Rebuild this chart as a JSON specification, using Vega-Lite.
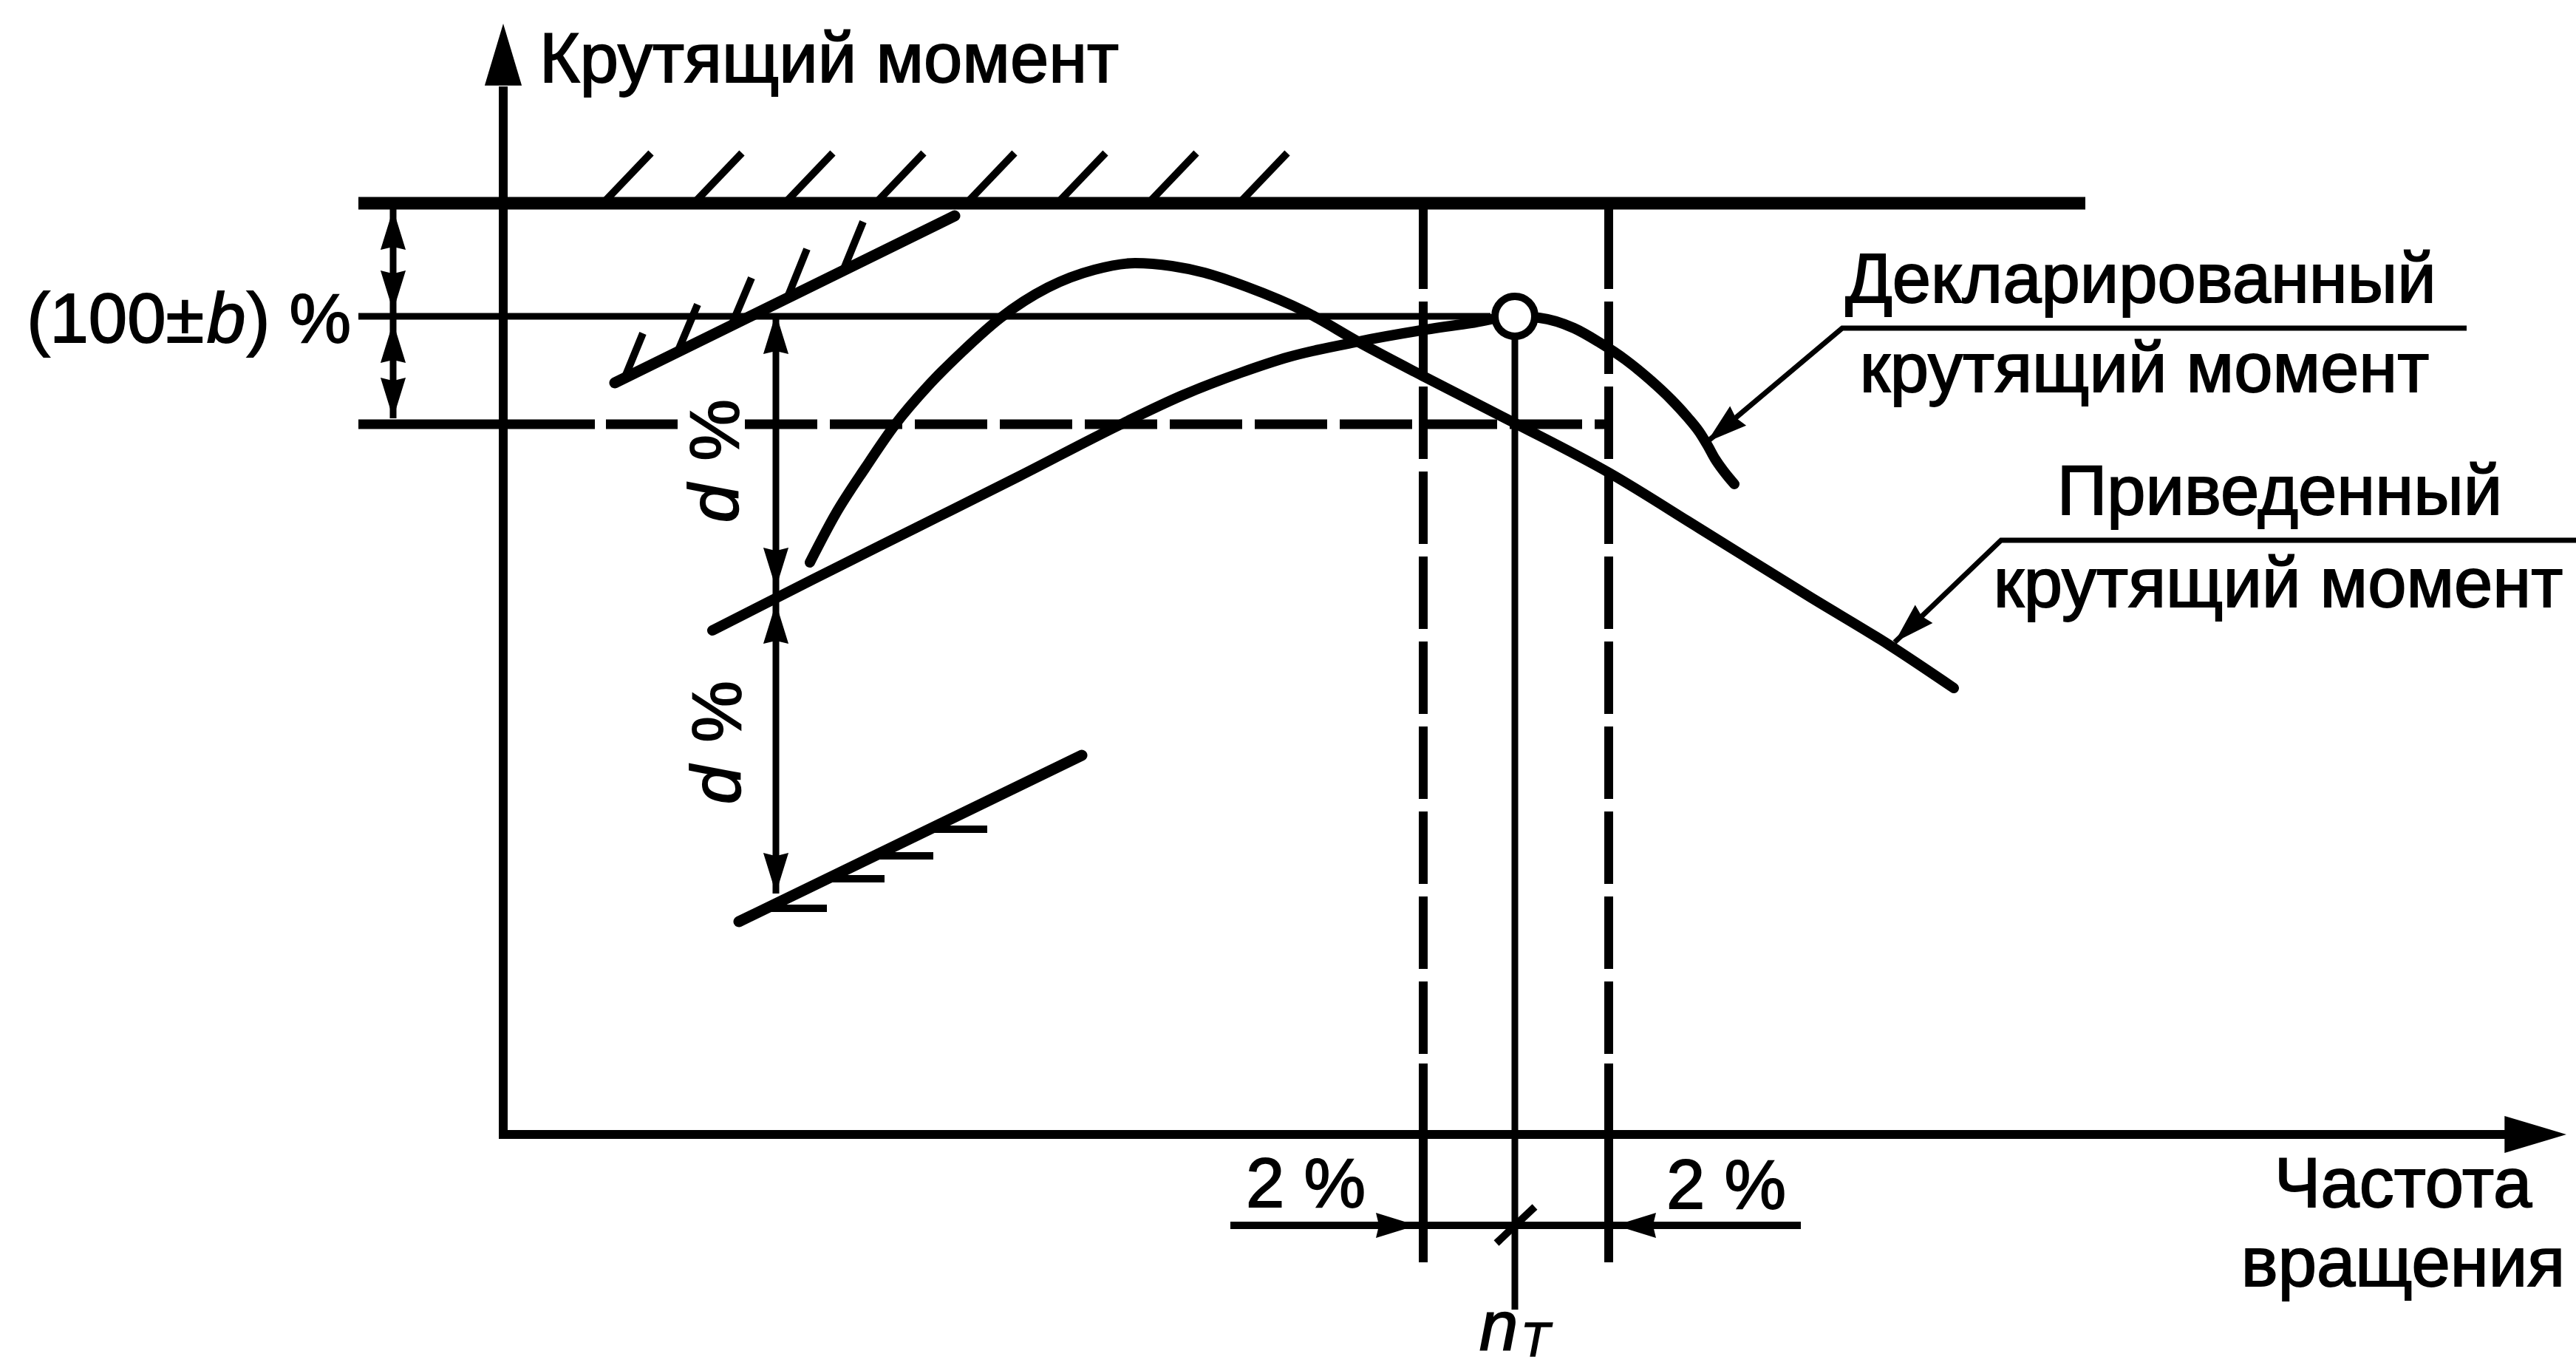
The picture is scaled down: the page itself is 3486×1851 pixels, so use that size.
{
  "$schema": "https://vega.github.io/schema/vega-lite/v6.json",
  "width": 3486,
  "height": 1851,
  "autosize": {"type": "none"},
  "padding": 0,
  "background": "white",
  "config": {"view": {"stroke": null}},
  "datasets": {
    "axisLines": [
      {"x": 0, "y": -6, "x2": 0, "y2": 1418},
      {"x": -6, "y": 0, "x2": 2713, "y2": 0}
    ],
    "limitLine": [
      {"x": -196, "y": 1260, "x2": 2141, "y2": 1260}
    ],
    "topHatch": [
      {"x": 135, "y": 1260, "x2": 200, "y2": 1328},
      {"x": 258, "y": 1260, "x2": 323, "y2": 1328},
      {"x": 381, "y": 1260, "x2": 446, "y2": 1328},
      {"x": 504, "y": 1260, "x2": 569, "y2": 1328},
      {"x": 627, "y": 1260, "x2": 692, "y2": 1328},
      {"x": 750, "y": 1260, "x2": 815, "y2": 1328},
      {"x": 873, "y": 1260, "x2": 938, "y2": 1328},
      {"x": 996, "y": 1260, "x2": 1061, "y2": 1328}
    ],
    "thinLines": [
      {"x": -196, "y": 1107, "x2": 1336, "y2": 1107},
      {"x": 1369, "y": 1076, "x2": 1369, "y2": -237},
      {"x": -149, "y": 1252, "x2": -149, "y2": 969},
      {"x": 369, "y": 1111, "x2": 369, "y2": 326}
    ],
    "dashSolid": [
      {"x": -196, "y": 961, "x2": 124, "y2": 961},
      {"x": 139, "y": 961, "x2": 236, "y2": 961}
    ],
    "dashH": [
      {"x": 327, "y": 961, "x2": 1491, "y2": 961}
    ],
    "dashV": [
      {"x": 1245, "y": 1242, "x2": 1245, "y2": 96},
      {"x": 1496, "y": 1242, "x2": 1496, "y2": 96}
    ],
    "vSolid": [
      {"x": 1245, "y": 1260, "x2": 1245, "y2": 1235},
      {"x": 1245, "y": 96, "x2": 1245, "y2": -173},
      {"x": 1496, "y": 1260, "x2": 1496, "y2": 1235},
      {"x": 1496, "y": 96, "x2": 1496, "y2": -173}
    ],
    "slopes": [
      {"x": 151, "y": 1017, "x2": 611, "y2": 1243},
      {"x": 319, "y": 288, "x2": 783, "y2": 513}
    ],
    "slopeHatch": [
      {"x": 164, "y": 1023, "x2": 189, "y2": 1084},
      {"x": 236, "y": 1059, "x2": 263, "y2": 1123},
      {"x": 309, "y": 1095, "x2": 336, "y2": 1159},
      {"x": 384, "y": 1131, "x2": 411, "y2": 1198},
      {"x": 460, "y": 1169, "x2": 487, "y2": 1235},
      {"x": 356, "y": 306, "x2": 438, "y2": 306},
      {"x": 439, "y": 346, "x2": 516, "y2": 346},
      {"x": 503, "y": 377, "x2": 582, "y2": 377},
      {"x": 577, "y": 413, "x2": 655, "y2": 413}
    ],
    "dimLines": [
      {"x": 984, "y": -123, "x2": 1756, "y2": -123},
      {"x": 1344, "y": -147, "x2": 1396, "y2": -98}
    ],
    "curves": [
      {"curve": "A", "x": 415, "y": 774},
      {"curve": "A", "x": 450, "y": 840},
      {"curve": "A", "x": 490, "y": 902},
      {"curve": "A", "x": 530, "y": 960},
      {"curve": "A", "x": 575, "y": 1013},
      {"curve": "A", "x": 620, "y": 1058},
      {"curve": "A", "x": 673, "y": 1105},
      {"curve": "A", "x": 737, "y": 1146},
      {"curve": "A", "x": 800, "y": 1170},
      {"curve": "A", "x": 855, "y": 1179},
      {"curve": "A", "x": 905, "y": 1175},
      {"curve": "A", "x": 949, "y": 1166},
      {"curve": "A", "x": 1006, "y": 1147},
      {"curve": "A", "x": 1086, "y": 1113},
      {"curve": "A", "x": 1158, "y": 1072},
      {"curve": "A", "x": 1247, "y": 1025},
      {"curve": "A", "x": 1368, "y": 963},
      {"curve": "A", "x": 1497, "y": 895},
      {"curve": "A", "x": 1619, "y": 820},
      {"curve": "A", "x": 1769, "y": 727},
      {"curve": "A", "x": 1876, "y": 662},
      {"curve": "A", "x": 1963, "y": 604},
      {"curve": "B", "x": 283, "y": 682},
      {"curve": "B", "x": 419, "y": 751},
      {"curve": "B", "x": 559, "y": 821},
      {"curve": "B", "x": 699, "y": 891},
      {"curve": "B", "x": 834, "y": 960},
      {"curve": "B", "x": 919, "y": 1000},
      {"curve": "B", "x": 999, "y": 1031},
      {"curve": "B", "x": 1063, "y": 1052},
      {"curve": "B", "x": 1158, "y": 1073},
      {"curve": "B", "x": 1236, "y": 1087},
      {"curve": "B", "x": 1310, "y": 1098},
      {"curve": "B", "x": 1369, "y": 1107},
      {"curve": "B", "x": 1402, "y": 1105},
      {"curve": "B", "x": 1449, "y": 1091},
      {"curve": "B", "x": 1483, "y": 1072},
      {"curve": "B", "x": 1519, "y": 1048},
      {"curve": "B", "x": 1551, "y": 1022},
      {"curve": "B", "x": 1581, "y": 994},
      {"curve": "B", "x": 1603, "y": 970},
      {"curve": "B", "x": 1619, "y": 950},
      {"curve": "B", "x": 1630, "y": 932},
      {"curve": "B", "x": 1640, "y": 914},
      {"curve": "B", "x": 1652, "y": 897},
      {"curve": "B", "x": 1666, "y": 880}
    ],
    "leaders": [
      {"leader": "declared", "seq": 0, "x": 2657, "y": 1091},
      {"leader": "declared", "seq": 1, "x": 1812, "y": 1091},
      {"leader": "declared", "seq": 2, "x": 1629, "y": 937},
      {"leader": "reduced", "seq": 0, "x": 2805, "y": 804},
      {"leader": "reduced", "seq": 1, "x": 2027, "y": 804},
      {"leader": "reduced", "seq": 2, "x": 1883, "y": 666}
    ],
    "ratedPoint": [
      {"x": 1369, "y": 1107}
    ],
    "bigArrows": [
      {"x": 0, "y": 1503, "angle": 0},
      {"x": 2792, "y": 0, "angle": 90}
    ],
    "arrows": [
      {"x": -149, "y": 1252, "angle": 0},
      {"x": -149, "y": 1114, "angle": 180},
      {"x": -149, "y": 1099, "angle": 0},
      {"x": -149, "y": 969, "angle": 180},
      {"x": 369, "y": 1111, "angle": 0},
      {"x": 369, "y": 739, "angle": 180},
      {"x": 369, "y": 719, "angle": 0},
      {"x": 369, "y": 326, "angle": 180},
      {"x": 1236, "y": -123, "angle": 90},
      {"x": 1505, "y": -123, "angle": 270},
      {"x": 1629, "y": 937, "angle": 230},
      {"x": 1883, "y": 666, "angle": 226}
    ],
    "textLeft": [
      {"label": "Крутящий момент", "x": 49, "y": 1424},
      {"label": ") %", "x": -347, "y": 1072}
    ],
    "textRight": [
      {"label": "(100±", "x": -405, "y": 1072}
    ],
    "textItalic": [
      {"label": "b", "x": -401, "y": 1072},
      {"label": "n", "x": 1321, "y": -292}
    ],
    "textSub": [
      {"label": "T", "x": 1377, "y": -300}
    ],
    "textCenter": [
      {"label": "2 %", "x": 1086, "y": -98},
      {"label": "2 %", "x": 1655, "y": -100},
      {"label": "Частота", "x": 2571, "y": -98},
      {"label": "вращения", "x": 2571, "y": -205},
      {"label": "Декларированный", "x": 2216, "y": 1126},
      {"label": "крутящий момент", "x": 2221, "y": 1005},
      {"label": "Приведенный", "x": 2404, "y": 839},
      {"label": "крутящий момент", "x": 2402, "y": 714}
    ],
    "textRotPct": [
      {"label": "%", "x": 318, "y": 953},
      {"label": "%", "x": 321, "y": 572}
    ],
    "textRotD": [
      {"label": "d", "x": 318, "y": 854},
      {"label": "d", "x": 321, "y": 473}
    ]
  },
  "encoding": {
    "x": {"field": "x", "type": "quantitative", "scale": {"domain": [-681, 2805], "nice": false, "zero": false}, "axis": null},
    "y": {"field": "y", "type": "quantitative", "scale": {"domain": [-316, 1535], "nice": false, "zero": false}, "axis": null}
  },
  "layer": [
    {"data": {"name": "axisLines"}, "mark": {"type": "rule", "color": "black", "strokeWidth": 12, "strokeCap": "butt"},
     "encoding": {"x2": {"field": "x2"}, "y2": {"field": "y2"}}},
    {"data": {"name": "limitLine"}, "mark": {"type": "rule", "color": "black", "strokeWidth": 17, "strokeCap": "butt"},
     "encoding": {"x2": {"field": "x2"}, "y2": {"field": "y2"}}},
    {"data": {"name": "topHatch"}, "mark": {"type": "rule", "color": "black", "strokeWidth": 10, "strokeCap": "butt"},
     "encoding": {"x2": {"field": "x2"}, "y2": {"field": "y2"}}},
    {"data": {"name": "thinLines"}, "mark": {"type": "rule", "color": "black", "strokeWidth": 9, "strokeCap": "butt"},
     "encoding": {"x2": {"field": "x2"}, "y2": {"field": "y2"}}},
    {"data": {"name": "dashSolid"}, "mark": {"type": "rule", "color": "black", "strokeWidth": 13, "strokeCap": "butt"},
     "encoding": {"x2": {"field": "x2"}, "y2": {"field": "y2"}}},
    {"data": {"name": "dashH"}, "mark": {"type": "rule", "color": "black", "strokeWidth": 13, "strokeCap": "butt", "strokeDash": [98, 17]},
     "encoding": {"x2": {"field": "x2"}, "y2": {"field": "y2"}}},
    {"data": {"name": "dashV"}, "mark": {"type": "rule", "color": "black", "strokeWidth": 12, "strokeCap": "butt", "strokeDash": [98, 17]},
     "encoding": {"x2": {"field": "x2"}, "y2": {"field": "y2"}}},
    {"data": {"name": "vSolid"}, "mark": {"type": "rule", "color": "black", "strokeWidth": 12, "strokeCap": "butt"},
     "encoding": {"x2": {"field": "x2"}, "y2": {"field": "y2"}}},
    {"data": {"name": "slopes"}, "mark": {"type": "rule", "color": "black", "strokeWidth": 15, "strokeCap": "round"},
     "encoding": {"x2": {"field": "x2"}, "y2": {"field": "y2"}}},
    {"data": {"name": "slopeHatch"}, "mark": {"type": "rule", "color": "black", "strokeWidth": 10, "strokeCap": "butt"},
     "encoding": {"x2": {"field": "x2"}, "y2": {"field": "y2"}}},
    {"data": {"name": "dimLines"}, "mark": {"type": "rule", "color": "black", "strokeWidth": 10, "strokeCap": "butt"},
     "encoding": {"x2": {"field": "x2"}, "y2": {"field": "y2"}}},
    {"data": {"name": "curves"}, "mark": {"type": "line", "color": "black", "strokeWidth": 14, "strokeCap": "round", "strokeJoin": "round", "interpolate": "monotone"},
     "encoding": {"detail": {"field": "curve", "type": "nominal"}}},
    {"data": {"name": "leaders"}, "mark": {"type": "line", "color": "black", "strokeWidth": 7, "strokeCap": "butt", "strokeJoin": "miter"},
     "encoding": {"detail": {"field": "leader", "type": "nominal"}, "order": {"field": "seq", "type": "quantitative"}}},
    {"data": {"name": "ratedPoint"}, "mark": {"type": "point", "shape": "circle", "filled": true, "fill": "white", "stroke": "black", "strokeWidth": 10, "size": 2916, "opacity": 1, "fillOpacity": 1, "strokeOpacity": 1}},
    {"data": {"name": "bigArrows"}, "mark": {"type": "point", "shape": "M0,0L0.6,2L-0.6,2Z", "filled": true, "color": "black", "strokeWidth": 0, "size": 7000, "opacity": 1},
     "encoding": {"angle": {"field": "angle", "type": "quantitative", "scale": null}}},
    {"data": {"name": "arrows"}, "mark": {"type": "point", "shape": "M0,0L0.62,2L0,1.85L-0.62,2Z", "filled": true, "color": "black", "strokeWidth": 0, "size": 3025, "opacity": 1},
     "encoding": {"angle": {"field": "angle", "type": "quantitative", "scale": null}}},
    {"data": {"name": "textLeft"}, "mark": {"type": "text", "font": "Liberation Sans", "fontSize": 94, "align": "left", "baseline": "alphabetic", "color": "black", "stroke": "black", "strokeWidth": 1.8},
     "encoding": {"text": {"field": "label"}}},
    {"data": {"name": "textRight"}, "mark": {"type": "text", "font": "Liberation Sans", "fontSize": 94, "align": "right", "baseline": "alphabetic", "color": "black", "stroke": "black", "strokeWidth": 1.8},
     "encoding": {"text": {"field": "label"}}},
    {"data": {"name": "textItalic"}, "mark": {"type": "text", "font": "Liberation Sans", "fontSize": 94, "fontStyle": "italic", "align": "left", "baseline": "alphabetic", "color": "black", "stroke": "black", "strokeWidth": 1.8},
     "encoding": {"text": {"field": "label"}}},
    {"data": {"name": "textSub"}, "mark": {"type": "text", "font": "Liberation Sans", "fontSize": 64, "fontStyle": "italic", "align": "left", "baseline": "alphabetic", "color": "black", "stroke": "black", "strokeWidth": 1.5},
     "encoding": {"text": {"field": "label"}}},
    {"data": {"name": "textCenter"}, "mark": {"type": "text", "font": "Liberation Sans", "fontSize": 94, "align": "center", "baseline": "alphabetic", "color": "black", "stroke": "black", "strokeWidth": 1.8},
     "encoding": {"text": {"field": "label"}}},
    {"data": {"name": "textRotPct"}, "mark": {"type": "text", "font": "Liberation Sans", "fontSize": 94, "align": "center", "baseline": "alphabetic", "angle": 270, "color": "black", "stroke": "black", "strokeWidth": 1.8},
     "encoding": {"text": {"field": "label"}}},
    {"data": {"name": "textRotD"}, "mark": {"type": "text", "font": "Liberation Sans", "fontSize": 94, "fontStyle": "italic", "align": "center", "baseline": "alphabetic", "angle": 270, "color": "black", "stroke": "black", "strokeWidth": 1.8},
     "encoding": {"text": {"field": "label"}}}
  ]
}
